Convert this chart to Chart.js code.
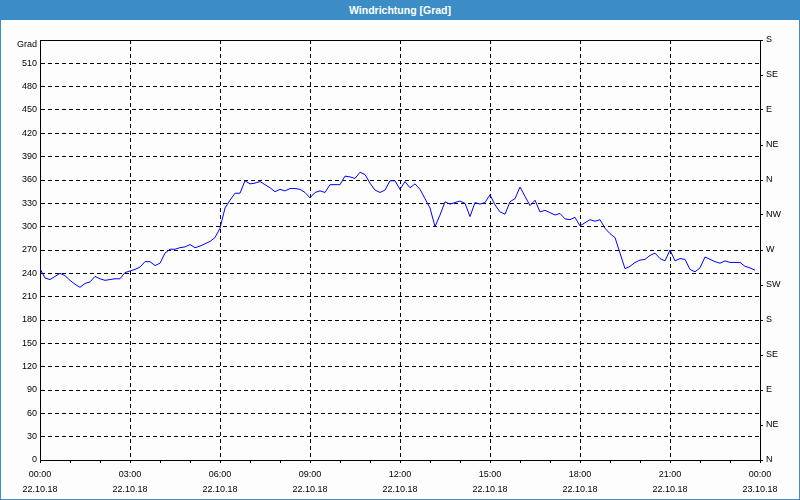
<!DOCTYPE html>
<html>
<head>
<meta charset="utf-8">
<script src="https://cdn.jsdelivr.net/npm/chart.js@4/dist/chart.umd.min.js"></script>
<style>
  html, body { margin: 0; padding: 0; background: #fcfdfc; }
  #wrap { position: relative; width: 800px; height: 500px; background: #fcfdfc; overflow: hidden; }
  #frame { position: absolute; left: 0; top: 0; width: 800px; height: 500px; box-sizing: border-box; border: 1px solid #3c8dc5; pointer-events: none; }
  #title { position: absolute; left: 0; top: 0; width: 800px; height: 20px; background: #3c8dc5; color: #fff;
           font: bold 10.5px "Liberation Sans", Arial, sans-serif; line-height: 20px; text-align: center; }
  #c { position: absolute; left: 1px; top: 20px; }
</style>
</head>
<body>
<div id="wrap">
  <div id="frame"></div>
  <div id="title">Windrichtung [Grad]</div>
  <canvas id="c" width="798" height="479"></canvas>
</div>
<script>
// ---- data ----
const TITLE = 'Windrichtung [Grad]';
const Y_UNIT = 'Grad';
const times = [
 '00:00','00:10','00:20','00:30','00:40','00:50',
 '01:00','01:10','01:20','01:30','01:40','01:50',
 '02:00','02:10','02:20','02:30','02:40','02:50',
 '03:00','03:10','03:20','03:30','03:40','03:50',
 '04:00','04:10','04:20','04:30','04:40','04:50',
 '05:00','05:10','05:20','05:30','05:40','05:50',
 '06:00','06:10','06:20','06:30','06:40','06:50',
 '07:00','07:10','07:20','07:30','07:40','07:50',
 '08:00','08:10','08:20','08:30','08:40','08:50',
 '09:00','09:10','09:20','09:30','09:40','09:50',
 '10:00','10:10','10:20','10:30','10:40','10:50',
 '11:00','11:10','11:20','11:30','11:40','11:50',
 '12:00','12:10','12:20','12:30','12:40','12:50',
 '13:00','13:10','13:20','13:30','13:40','13:50',
 '14:00','14:10','14:20','14:30','14:40','14:50',
 '15:00','15:10','15:20','15:30','15:40','15:50',
 '16:00','16:10','16:20','16:30','16:40','16:50',
 '17:00','17:10','17:20','17:30','17:40','17:50',
 '18:00','18:10','18:20','18:30','18:40','18:50',
 '19:00','19:10','19:20','19:30','19:40','19:50',
 '20:00','20:10','20:20','20:30','20:40','20:50',
 '21:00','21:10','21:20','21:30','21:40','21:50',
 '22:00','22:10','22:20','22:30','22:40','22:50',
 '23:00','23:10','23:20','23:30','23:40','23:50'
];
const direction = [
 246,234,232,236,240,237,
 231,226,222,227,229,236,
 233,231,232,233,233,241,
 243,245,248,255,255,250,
 253,266,271,271,273,274,
 277,273,275,278,281,286,
 298,324,334,343,343,359,
 355,356,358,354,350,345,
 348,346,349,349,348,344,
 337,344,346,344,354,354,
 354,365,364,362,370,367,
 356,347,344,347,359,359,
 348,358,350,355,348,336,
 324,300,315,332,329,331,
 333,330,313,331,329,331,
 341,328,319,316,332,336,
 351,339,327,334,319,321,
 318,315,317,310,309,312,
 301,305,309,307,309,298,
 291,286,266,246,249,254,
 257,258,263,266,259,256,
 270,256,259,258,245,242,
 247,261,258,255,253,256,
 254,254,254,249,247,244
];
const xTickTimes = ['00:00','03:00','06:00','09:00','12:00','15:00','18:00','21:00','00:00'];
const xTickDates = ['22.10.18','22.10.18','22.10.18','22.10.18','22.10.18','22.10.18','22.10.18','22.10.18','23.10.18'];
const compass = ['N','NE','E','SE','S','SW','W','NW','N','NE','E','SE','S'];

// ---- build ----
const toMin = s => { const [h, m] = s.split(':').map(Number); return h * 60 + m; };
const points = times.map((t, i) => ({ x: toMin(t), y: direction[i] }));

const FONT = { family: '"Liberation Sans", Arial, sans-serif', size: 9 };

const framePlugin = {
  id: 'frame',
  afterDraw(chart) {
    const { ctx, chartArea: a } = chart;
    ctx.save();
    ctx.setLineDash([]);
    ctx.strokeStyle = '#000';
    ctx.lineWidth = 1;
    ctx.beginPath();
    ctx.moveTo(a.left, Math.round(a.top) + 0.5);
    ctx.lineTo(a.right, Math.round(a.top) + 0.5);
    ctx.stroke();
    ctx.fillStyle = '#000';
    ctx.font = '9px "Liberation Sans", Arial, sans-serif';
    ctx.textAlign = 'right';
    ctx.textBaseline = 'middle';
    ctx.fillText(Y_UNIT, a.left - 3, a.top + 5);
    ctx.restore();
  }
};

new Chart(document.getElementById('c'), {
  type: 'line',
  data: {
    datasets: [{
      label: TITLE,
      data: points,
      borderColor: '#0000ff',
      borderWidth: 1,
      pointRadius: 0,
      tension: 0,
      fill: false
    }]
  },
  options: {
    responsive: false,
    animation: false,
    devicePixelRatio: 1,
    layout: { padding: { top: 20, left: 0, right: 0, bottom: 0 } },
    plugins: { legend: { display: false }, tooltip: { enabled: false }, title: { display: false } },
    scales: {
      x: {
        type: 'linear',
        min: 0, max: 1440,
        afterFit(s) { s.height = 39; },
        border: { display: true, color: '#000', width: 1, dash: [4, 3] },
        grid: {
          color: c => (c.tick && c.tick.value % 180 === 0) ? '#000' : 'rgba(0,0,0,0)',
          tickColor: '#000',
          tickBorderDash: [],
          lineWidth: 1,
          tickLength: 3,
          drawTicks: true
        },
        ticks: {
          stepSize: 60,
          autoSkip: false,
          maxRotation: 0, minRotation: 0,
          padding: 4,
          color: '#000',
          font: Object.assign({}, FONT, { lineHeight: '15px' }),
          callback: v => {
            if (v % 180 !== 0) return '';
            const k = v / 180;
            return [xTickTimes[k], xTickDates[k]];
          }
        }
      },
      y: {
        position: 'left',
        min: 0, max: 540,
        afterFit(s) { s.width = 39; },
        border: { display: true, color: '#000', width: 1, dash: [4, 3] },
        grid: { color: '#000', lineWidth: 1, drawTicks: false },
        ticks: {
          stepSize: 30,
          padding: 3,
          color: '#000',
          font: FONT,
          callback: v => v === 540 ? '' : String(v)
        }
      },
      y2: {
        position: 'right',
        min: 0, max: 540,
        afterFit(s) { s.width = 39; },
        border: { display: true, color: '#000', width: 1 },
        grid: { drawOnChartArea: false, color: '#000', tickLength: 3, drawTicks: true },
        ticks: {
          stepSize: 45,
          padding: 3,
          color: '#000',
          font: FONT,
          callback: v => compass[Math.round(v / 45)]
        }
      }
    }
  },
  plugins: [framePlugin]
});
</script>
</body>
</html>
